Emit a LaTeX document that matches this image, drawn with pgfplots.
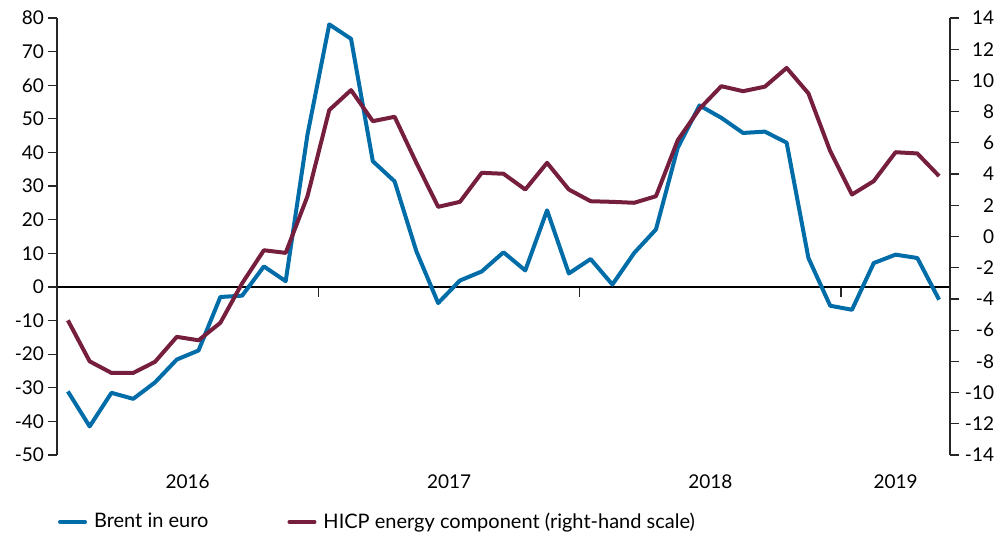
\documentclass[border=0pt]{standalone}
\usepackage{fontspec}
\setmainfont{Lato}
\usepackage{pgfplots}
\usepackage{pgfplotstable}
\pgfplotsset{compat=1.18}

\definecolor{brentblue}{RGB}{0,108,168}
\definecolor{hicpred}{RGB}{118,30,62}

% month index (0 = Jan 2016), Brent in euro (left), HICP energy (right)
\pgfplotstableread{
x  brent  hicp
0  -31.1  -5.37
1  -41.5  -8.00
2  -31.5  -8.74
3  -33.3  -8.74
4  -28.4  -8.03
5  -21.6  -6.43
6  -18.9  -6.65
7   -3.0  -5.53
8   -2.6  -3.00
9    6.1  -0.88
10   1.7  -1.05
11  45.3   2.58
12  78.1   8.10
13  73.8   9.38
14  37.4   7.39
15  31.4   7.67
16  10.6   4.72
17  -4.8   1.90
18   1.9   2.22
19   4.6   4.08
20  10.3   4.02
21   4.9   3.01
22  22.8   4.72
23   4.0   3.01
24   8.3   2.26
25   0.7   2.22
26  10.1   2.16
27  17.1   2.58
28  41.4   6.17
29  54.0   8.18
30  50.3   9.63
31  45.8   9.31
32  46.2   9.60
33  42.9  10.80
34   8.6   9.17
35  -5.6   5.47
36  -6.8   2.69
37   7.1   3.55
38   9.6   5.40
39   8.6   5.32
40  -3.8   3.87
}\datatable

\begin{document}
\begin{tikzpicture}
\pgfplotsset{
  every axis/.append style={
    scale only axis, width=446.5pt, height=218.5pt,
    xmin=-0.5, xmax=40.5,
    font=\fontsize{9.5}{11}\selectfont,
    /pgf/number format/assume math mode=true,
    axis line style={line width=0.6pt, black!85},
    every tick/.style={line width=0.6pt, black!85},
    tick align=outside,
  },
}
% zero line with year-boundary ticks
\begin{axis}[
  ymin=-50, ymax=80,
  axis y line=none,
  axis x line*=middle,
  xtick={-0.5,11.5,23.5,35.5}, xticklabels={},
  x axis line style={line width=0.6pt, black},
  major tick length=5pt,
]
\end{axis}
% left scale, Brent, year labels
\begin{axis}[
  ymin=-50, ymax=80, ytick={-50,-40,...,80},
  axis y line*=left,
  axis x line*=bottom,
  x axis line style={draw=none},
  xtick={5.5,17.5,29.5,38}, xticklabels={2016,2017,2018,2019},
  x tick style={draw=none},
  xticklabel style={yshift=-2pt},
  major tick length=4.5pt,
  yticklabel style={xshift=1.5pt},
]
\addplot[brentblue, line width=2pt, line join=round] table[x=x, y=brent] {\datatable};
\end{axis}
% right scale, HICP energy, legend
\begin{axis}[
  ymin=-14, ymax=14, ytick={-14,-12,...,14},
  axis y line*=right,
  axis x line=none,
  major tick length=4.5pt,
  yticklabel style={text width=18pt, align=right, xshift=-4pt},
  legend style={draw=none, fill=none, at={(-0.006,-0.153)}, anchor=west,
    legend columns=2, font=\fontsize{10}{12}\selectfont,
    /tikz/every even column/.append style={column sep=37.5pt},
    /tikz/every odd column/.append style={column sep=1.5pt}},
  legend image code/.code={\draw[#1, line cap=round] (0pt,0pt) -- (12.5pt,0pt);},
]
\addlegendimage{brentblue, line width=2pt}
\addlegendentry{Brent in euro}
\addplot[hicpred, line width=2pt, line join=round] table[x=x, y=hicp] {\datatable};
\addlegendentry{HICP energy component (right-hand scale)}
\end{axis}
\path (current axis.south west) ++(-28.5pt,-41.5pt) rectangle ++(504pt,269pt);
\end{tikzpicture}
\end{document}
